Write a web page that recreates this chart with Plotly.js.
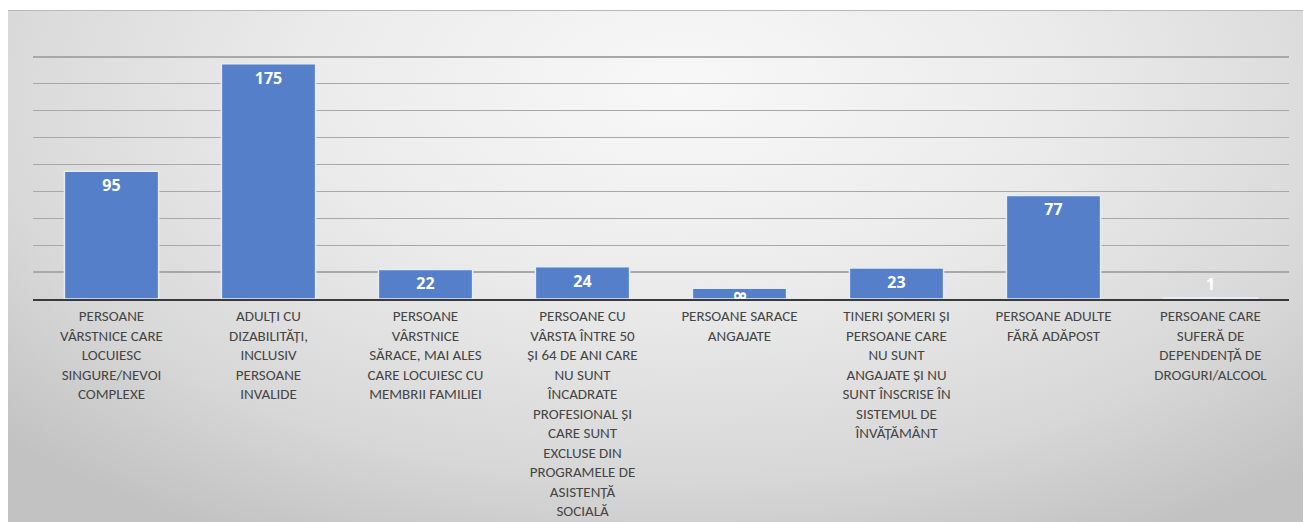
<!DOCTYPE html>
<html>
<head>
<meta charset="utf-8">
<script src="https://cdn.plot.ly/plotly-3.0.1.min.js"></script>
<style>
  body { margin: 0; background: #ffffff; }
  #wrap { position: relative; width: 1303px; height: 522px; overflow: hidden; }
  #frame {
    position: absolute; left: 8px; top: 10px; width: 1295px; height: 512px;
    background: radial-gradient(ellipse 72% 100% at 52% 15%, #f8f8f8 0%, #ebebeb 40%, #d8d8d8 75%, #c2c2c2 100%);
    border-top: 1px solid #b8b8b8;
  }
  #myPlot { position: absolute; left: 0; top: 0; width: 1303px; height: 522px; }
</style>
</head>
<body>
<div id="wrap">
  <div id="frame"></div>
  <div id="myPlot"></div>
</div>
<script>
const categories = [
    'PERSOANE<br>VÂRSTNICE CARE<br>LOCUIESC<br>SINGURE/NEVOI<br>COMPLEXE',
    'ADULȚI CU<br>DIZABILITĂȚI,<br>INCLUSIV<br>PERSOANE<br>INVALIDE',
    'PERSOANE<br>VÂRSTNICE<br>SĂRACE, MAI ALES<br>CARE LOCUIESC CU<br>MEMBRII FAMILIEI',
    'PERSOANE CU<br>VÂRSTA ÎNTRE 50<br>ȘI 64 DE ANI CARE<br>NU SUNT<br>ÎNCADRATE<br>PROFESIONAL ȘI<br>CARE SUNT<br>EXCLUSE DIN<br>PROGRAMELE DE<br>ASISTENȚĂ<br>SOCIALĂ',
    'PERSOANE SARACE<br>ANGAJATE',
    'TINERI ȘOMERI ȘI<br>PERSOANE CARE<br>NU SUNT<br>ANGAJATE ȘI NU<br>SUNT ÎNSCRISE ÎN<br>SISTEMUL DE<br>ÎNVĂȚĂMÂNT',
    'PERSOANE ADULTE<br>FĂRĂ ADĂPOST',
    'PERSOANE CARE<br>SUFERĂ DE<br>DEPENDENȚĂ DE<br>DROGURI/ALCOOL'
];
const values = [95, 175, 22, 24, 8, 23, 77, 1];

const trace = {
    x: categories,
    y: values,
    type: 'bar',
    text: values.map(String),
    textposition: values.map(v => v > 5 ? 'inside' : 'outside'),
    insidetextanchor: 'end',
    constraintext: 'none',
    textfont: {family: 'Open Sans, sans-serif', size: 16, color: '#ffffff', weight: 'bold'},
    cliponaxis: false,
    marker: {color: '#5580C9', line: {color: '#e4ecf8', width: 1.5}},
    width: 0.6,
    hoverinfo: 'none'
};

const layout = {
    width: 1303,
    height: 522,
    margin: {l: 33, r: 14, t: 30, b: 223},
    paper_bgcolor: 'rgba(0,0,0,0)',
    plot_bgcolor: 'rgba(0,0,0,0)',
    showlegend: false,
    xaxis: {
        tickangle: 0,
        tickfont: {family: 'Carlito, Lato, sans-serif', size: 15, color: '#454545'},
        ticklabelstandoff: 2,
        showline: true,
        linecolor: '#3a3a3a',
        linewidth: 2,
        ticks: ''
    },
    yaxis: {
        range: [0, 200],
        dtick: 20,
        showticklabels: false,
        gridcolor: '#a8a8a8',
        gridwidth: 1.3,
        zeroline: false,
        fixedrange: true
    }
};

Plotly.newPlot('myPlot', [trace], layout, {displayModeBar: false, staticPlot: true});
</script>
</body>
</html>
